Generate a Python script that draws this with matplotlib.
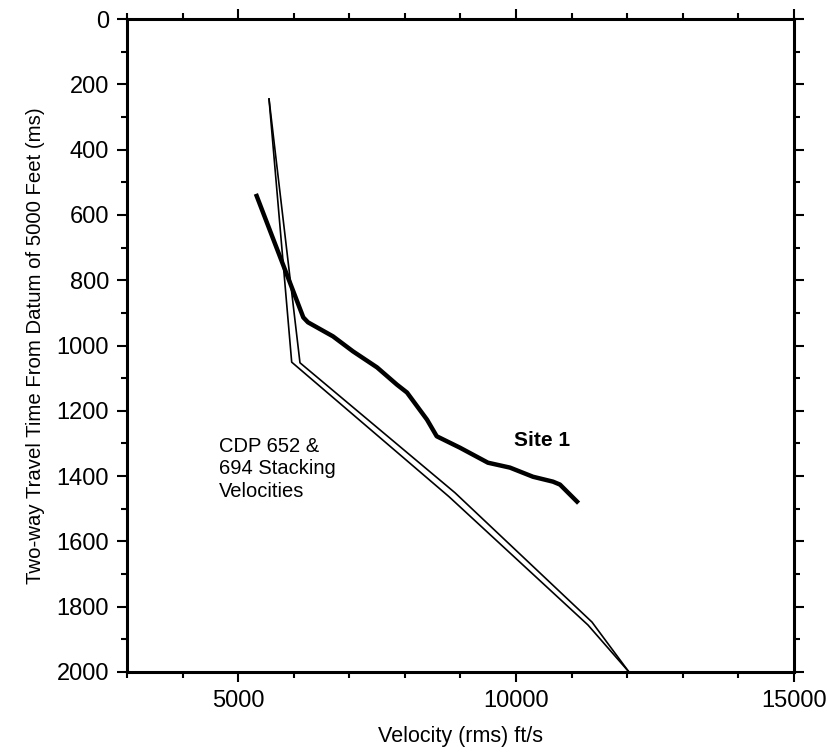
import matplotlib
matplotlib.use("Agg")
import matplotlib.pyplot as plt
from matplotlib.ticker import MultipleLocator, FixedLocator

plt.rcParams['font.family'] = ['Liberation Sans', 'DejaVu Sans']

# Stacking velocity curves (CDP 652 and CDP 694)
cdp_a_vel = [5555, 5963, 8793, 11293, 12031]
cdp_a_time = [245, 1051, 1463, 1856, 2000]
cdp_b_vel = [5555, 6112, 8901, 11365, 12031]
cdp_b_time = [245, 1053, 1451, 1847, 2000]

# Site 1 curve
site_vel = [5333, 6172, 6256, 6706, 7066, 7498, 7857, 8037, 8397, 8572,
            8990, 9494, 9890, 10304, 10664, 10790, 11096]
site_time = [542, 914, 929, 972, 1018, 1067, 1120, 1144, 1227, 1278,
             1313, 1359, 1374, 1402, 1417, 1426, 1478]

x_major = [5000, 10000, 15000]
y_major = list(range(0, 2001, 200))

fig = plt.figure(figsize=(8.28, 7.54), dpi=100)
ax = fig.add_axes([127/828, 1 - 672/754, (794 - 127)/828, (672 - 19)/754])

ax.plot(cdp_a_vel, cdp_a_time, color='black', lw=1.2)
ax.plot(cdp_b_vel, cdp_b_time, color='black', lw=1.2)
ax.plot(site_vel, site_time, color='black', lw=3.2, solid_joinstyle='round')

ax.set_xlim(3000, 15000)
ax.set_ylim(2000, 0)

ax.xaxis.set_major_locator(FixedLocator(x_major))
ax.xaxis.set_minor_locator(MultipleLocator(1000))
ax.yaxis.set_major_locator(FixedLocator(y_major))
ax.yaxis.set_minor_locator(MultipleLocator(100))

ax.tick_params(which='both', direction='out', top=True, right=True,
               labeltop=False, labelright=False, width=1.5, color='black')
ax.tick_params(which='major', length=7, labelsize=17, pad=6)
ax.tick_params(which='minor', length=4)
for s in ax.spines.values():
    s.set_linewidth(2.2)

ax.set_xlabel('Velocity (rms) ft/s', fontsize=15.5, labelpad=10)
ax.set_ylabel('Two-way Travel Time From Datum of 5000 Feet (ms)', fontsize=14.7, labelpad=8)

ax.text(10466, 1291, 'Site 1', fontsize=15, fontweight='bold', ha='center', va='center')
ax.text(4655, 1279, 'CDP 652 &\n694 Stacking\nVelocities', fontsize=14.5,
        ha='left', va='top', linespacing=1.25)

fig.savefig('out.png', dpi=100)
